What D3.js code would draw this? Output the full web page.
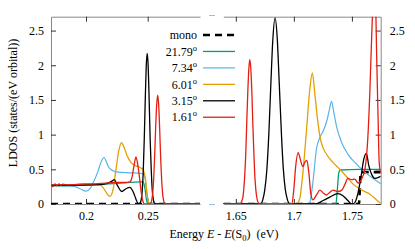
<!DOCTYPE html>
<html>
<head>
<meta charset="utf-8">
<script src="https://cdn.jsdelivr.net/npm/d3@7"></script>
<style>
  body { margin: 0; background: #fff; }
  svg { display: block; font-family: "Liberation Serif", "DejaVu Serif", serif; }
  .axis .domain { stroke: #888; stroke-width: 1; }
  .axis line { stroke: #333; }
  .axis text { font-family: "Liberation Serif", serif; font-size: 12px; fill: #000; }
</style>
</head>
<body>
<script>
const outerWidth = 415;
const outerHeight = 249;
const yTop = 16.7;
const yBottom = 204;

// axis windows and ticks
const lowWindow = [0.1716, 0.2924];
const highWindow = [1.6392, 1.7748];
const lowTicks = [0.2, 0.25];
const highTicks = [1.65, 1.7, 1.75];
const ldosTicks = [0, 0.5, 1, 1.5, 2, 2.5];
const ldosMax = 2.7;

// mono
const monoEnergy = [0.1716, 1.7560, 1.7577, 1.7748];
const monoLdos = [0, 0, 0.46, 0.46];

// 21.79 deg
const e2179 = [0.1716, 0.1910, 0.2113, 0.2275, 0.2437, 0.2464, 0.2478, 0.2490, 0.2502, 0.2924,
  1.6392, 1.7362, 1.7374, 1.7387, 1.7400, 1.7568, 1.7748];
const d2179 = [0.26, 0.265, 0.28, 0.30, 0.32, 0.32, 0.22, 0.06, 0, 0,
  0, 0, 0.2, 0.45, 0.49, 0.5, 0.5];

// 7.34 deg
const e734 = [0.1716, 0.1910, 0.1951, 0.2000, 0.2032, 0.2056, 0.2097, 0.2121, 0.2146, 0.2162,
  0.2180, 0.2218, 0.2259, 0.2356, 0.2453, 0.2478, 0.2490, 0.2500, 0.2514, 0.2924,
  1.6392, 1.7120, 1.7137, 1.7163, 1.7195, 1.7224, 1.7252, 1.7284, 1.7306, 1.7324,
  1.7344, 1.7370, 1.7413, 1.7465, 1.7525, 1.7612, 1.7681, 1.7748];
const d734 = [0.27, 0.25, 0.22, 0.185, 0.22, 0.3, 0.47, 0.6, 0.67, 0.62,
  0.54, 0.48, 0.46, 0.45, 0.44, 0.38, 0.2, 0.08, 0, 0,
  0, 0, 0.02, 0.3, 0.8, 0.96, 1.05, 1.2, 1.36, 1.48,
  1.32, 1.1, 0.88, 0.72, 0.6, 0.46, 0.37, 0.29];

// 6.01 deg
const e601 = [0.1716, 0.1992, 0.2048, 0.2097, 0.2137, 0.2178, 0.2194, 0.2218, 0.2243, 0.2267,
  0.2287, 0.2308, 0.2332, 0.2364, 0.2405, 0.2445, 0.2466, 0.2482, 0.2498, 0.2514, 0.2924,
  1.6392, 1.7008, 1.7034, 1.7051, 1.7080, 1.7109, 1.7137, 1.7159, 1.7180, 1.7197,
  1.7224, 1.7249, 1.7284, 1.7336, 1.7396, 1.7456, 1.7508, 1.7586, 1.7655, 1.7706, 1.7748];
const d601 = [0.27, 0.275, 0.285, 0.29, 0.24, 0.13, 0.11, 0.2, 0.5, 0.78,
  0.885, 0.82, 0.7, 0.6, 0.55, 0.52, 0.48, 0.35, 0.1, 0, 0,
  0, 0, 0.02, 0.08, 0.49, 1.07, 1.65, 1.89, 1.6, 1.32,
  0.98, 0.82, 0.71, 0.6, 0.5, 0.39, 0.29, 0.2, 0.14, 0.07, 0.01];

// 3.15 deg
const e315 = [0.1716, 0.2113, 0.2178, 0.2210, 0.2229, 0.2251, 0.2289, 0.2324, 0.2356, 0.2381,
  0.2405, 0.2425, 0.2440, 0.2448, 0.2456, 0.2464, 0.2472, 0.2480, 0.2488, 0.2496,
  0.2504, 0.2512, 0.2520, 0.2529, 0.2537, 0.2545, 0.2553, 0.2567, 0.2924,
  1.6392, 1.6715, 1.6732, 1.6749, 1.6767, 1.6784, 1.6801, 1.6818, 1.6838, 1.6857,
  1.6874, 1.6892, 1.6909, 1.6926, 1.6943, 1.6965, 1.7185, 1.7252, 1.7310, 1.7379,
  1.7422, 1.7465, 1.7499, 1.7525, 1.7551, 1.7577, 1.7603, 1.7624, 1.7646, 1.7672,
  1.7698, 1.7724, 1.7748];
const d315 = [0.27, 0.28, 0.3, 0.33, 0.35, 0.28, 0.18, 0.22, 0.24, 0.18,
  0.07, 0, 0.02, 0.07, 0.2, 0.48, 0.93, 1.49, 1.98, 2.17,
  1.98, 1.49, 0.93, 0.48, 0.2, 0.07, 0.02, 0, 0,
  0, 0, 0.06, 0.2, 0.49, 1.0, 1.7, 2.35, 2.68, 2.38,
  1.74, 1.04, 0.51, 0.21, 0.07, 0, 0, 0.05, 0.1, 0.15,
  0.12, 0.05, 0, 0.02, 0.15, 0.38, 0.65, 0.73, 0.55, 0.42,
  0.37, 0.38, 0.4];

// 1.61 deg
const e161 = [0.1716, 0.1732, 0.1748, 0.1765, 0.1781, 0.1797, 0.1813, 0.1846, 0.1910, 0.1992,
  0.2073, 0.2154, 0.2235, 0.2316, 0.2356, 0.2372, 0.2389, 0.2405, 0.2421, 0.2437,
  0.2449, 0.2461, 0.2474, 0.2516, 0.2524, 0.2532, 0.2540, 0.2548, 0.2556, 0.2564,
  0.2573, 0.2581, 0.2589, 0.2597, 0.2605, 0.2613, 0.2621, 0.2629, 0.2637, 0.2660, 0.2924,
  1.6392, 1.6534, 1.6560, 1.6568, 1.6577, 1.6586, 1.6594, 1.6603, 1.6612, 1.6620,
  1.6629, 1.6638, 1.6646, 1.6655, 1.6663, 1.6672, 1.6681, 1.6698, 1.6720, 1.6982,
  1.6999, 1.7016, 1.7037, 1.7056, 1.7077, 1.7094, 1.7112, 1.7129, 1.7146, 1.7163,
  1.7195, 1.7224, 1.7252, 1.7281, 1.7310, 1.7338, 1.7379, 1.7413, 1.7439, 1.7465,
  1.7497, 1.7525, 1.7554, 1.7583, 1.7612, 1.7637, 1.7655, 1.7672, 1.7685, 1.7698,
  1.7715, 1.7726, 1.7735, 1.7748];
const d161 = [0.28, 0.25, 0.29, 0.26, 0.29, 0.27, 0.285, 0.275, 0.28, 0.29,
  0.29, 0.30, 0.31, 0.31, 0.32, 0.38, 0.55, 0.68, 0.55, 0.33,
  0.15, 0.04, 0, 0, 0.01, 0.05, 0.15, 0.35, 0.67, 1.08,
  1.43, 1.57, 1.43, 1.08, 0.67, 0.35, 0.15, 0.05, 0.01, 0, 0,
  0, 0, 0.09, 0.21, 0.42, 0.75, 1.17, 1.61, 1.95, 2.08,
  1.95, 1.61, 1.17, 0.75, 0.42, 0.21, 0.09, 0.01, 0, 0,
  0.2, 0.55, 0.74, 0.64, 0.54, 0.6, 0.63, 0.45, 0.15, 0.06,
  0.13, 0.2, 0.16, 0.13, 0.17, 0.2, 0.18, 0.2, 0.28, 0.37,
  0.35, 0.36, 0.3, 0.36, 0.5, 0.95, 1.64, 2.5, 3.0, 3.2,
  2.0, 1.2, 0.6, 0.45];

const series = [
  { label: "mono", deg: false, energy: monoEnergy, ldos: monoLdos, color: "#000000", width: 2.6, dash: "7,5" },
  { label: "21.79", deg: true, energy: e2179, ldos: d2179, color: "#009e73", width: 1.3 },
  { label: "7.34", deg: true, energy: e734, ldos: d734, color: "#56b4e9", width: 1.2 },
  { label: "6.01", deg: true, energy: e601, ldos: d601, color: "#e69f00", width: 1.3 },
  { label: "3.15", deg: true, energy: e315, ldos: d315, color: "#000000", width: 1.3 },
  { label: "1.61", deg: true, energy: e161, ldos: d161, color: "#e51e10", width: 1.3 }
];

const svg = d3.select("body").append("svg")
  .attr("width", outerWidth)
  .attr("height", outerHeight);

const yScale = d3.scaleLinear().domain([0, ldosMax]).range([yBottom, yTop]);

const panels = [
  { id: "low", domain: lowWindow, range: [51, 200], ticks: lowTicks, side: "left" },
  { id: "high", domain: highWindow, range: [223.3, 380.7], ticks: highTicks, side: "right" }
];

const fmt = d3.format("~g");

panels.forEach(p => {
  const xScale = d3.scaleLinear().domain(p.domain).range(p.range);

  svg.append("clipPath").attr("id", `clip-${p.id}`)
    .append("rect")
    .attr("x", p.range[0])
    .attr("y", yTop)
    .attr("width", p.range[1] - p.range[0])
    .attr("height", yBottom - yTop);

  // bottom axis
  svg.append("g")
    .attr("class", "axis")
    .attr("transform", `translate(0, ${yBottom})`)
    .call(d3.axisBottom(xScale).tickValues(p.ticks).tickSizeInner(-5).tickSizeOuter(0).tickPadding(7).tickFormat(fmt));

  // top axis
  svg.append("g")
    .attr("class", "axis")
    .attr("transform", `translate(0, ${yTop})`)
    .call(d3.axisTop(xScale).tickValues(p.ticks).tickSizeInner(-5).tickSizeOuter(0).tickFormat(() => ""));

  // y axis
  if (p.side === "left") {
    svg.append("g")
      .attr("class", "axis")
      .attr("transform", `translate(${p.range[0]}, 0)`)
      .call(d3.axisLeft(yScale).tickValues(ldosTicks).tickSizeInner(-5).tickSizeOuter(0).tickPadding(7).tickFormat(fmt));
  } else {
    svg.append("g")
      .attr("class", "axis")
      .attr("transform", `translate(${p.range[1]}, 0)`)
      .call(d3.axisRight(yScale).tickValues(ldosTicks).tickSizeInner(-5).tickSizeOuter(0).tickPadding(9).tickFormat(fmt));
  }

  const line = d3.line()
    .x(d => xScale(d[0]))
    .y(d => yScale(d[1]))
    .curve(d3.curveMonotoneX);

  const g = svg.append("g").attr("clip-path", `url(#clip-${p.id})`);
  series.forEach(s => {
    const pts = s.energy.map((e, i) => [e, s.ldos[i]]);
    g.append("path")
      .attr("d", line(pts))
      .attr("fill", "none")
      .attr("stroke", s.color)
      .attr("stroke-width", s.width)
      .attr("stroke-dasharray", s.dash || null);
  });
});

// axis break marks
[yTop - 0.3, yBottom + 0.5].forEach(yy => {
  svg.append("text")
    .attr("x", 212)
    .attr("y", yy)
    .attr("text-anchor", "middle")
    .style("font-size", "8px")
    .text("...");
});

// legend
const legend = svg.append("g");
series.forEach((s, i) => {
  const ly = 35 + i * 16.45;
  const t = legend.append("text")
    .attr("x", 197)
    .attr("y", ly)
    .attr("dy", "0.35em")
    .attr("text-anchor", "end")
    .style("font-size", "12px");
  t.append("tspan").text(s.label);
  if (s.deg) {
    t.append("tspan")
      .attr("dy", -5)
      .style("font-size", "8.5px")
      .text("o");
  }
  legend.append("line")
    .attr("x1", 203)
    .attr("x2", 235)
    .attr("y1", ly)
    .attr("y2", ly)
    .attr("stroke", s.color)
    .attr("stroke-width", s.width)
    .attr("stroke-dasharray", s.dash || null);
});

// axis labels
svg.append("text")
  .attr("transform", `translate(17, 103) rotate(-90)`)
  .attr("text-anchor", "middle")
  .style("font-size", "12px")
  .text("LDOS (states/(eV orbital))");

const xLabel = svg.append("text")
  .attr("x", 224)
  .attr("y", 238)
  .attr("text-anchor", "middle")
  .style("font-size", "12px");
xLabel.append("tspan").text("Energy ");
xLabel.append("tspan").style("font-style", "italic").text("E");
xLabel.append("tspan").text(" - ");
xLabel.append("tspan").style("font-style", "italic").text("E");
xLabel.append("tspan").text("(S");
xLabel.append("tspan").attr("dy", 3).style("font-size", "8.5px").text("0");
xLabel.append("tspan").attr("dy", -3).text(")\u00a0\u00a0(eV)");
</script>
</body>
</html>
